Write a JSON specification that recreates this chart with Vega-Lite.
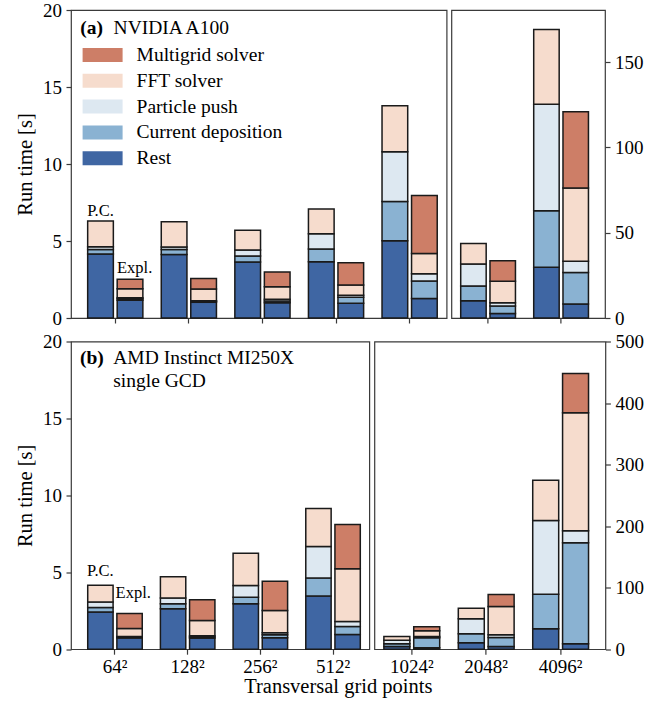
{
  "$schema": "https://vega.github.io/schema/vega-lite/v6.json",
  "padding": {"left": 14, "top": 0, "right": 5, "bottom": 0},
  "config": {
    "font": "Liberation Serif",
    "view": {"stroke": "#3a3a3a", "strokeWidth": 1.2},
    "axis": {"domain": false, "grid": false, "tickColor": "#3a3a3a", "tickSize": 5, "tickWidth": 1.2, "labelFont": "Liberation Serif", "labelFontSize": 19, "labelColor": "#000", "titleFont": "Liberation Serif", "titleFontSize": 20.5, "titleFontWeight": "normal", "titleColor": "#000", "labelPadding": 4.5},
    "legend": {"labelFont": "Liberation Serif"},
    "text": {"font": "Liberation Serif", "color": "#000"}
  },
  "datasets": {
    "a100": [
      {"grid": "64²", "method": "P.C.", "part": "Rest", "t": 4.16},
      {"grid": "64²", "method": "P.C.", "part": "Current deposition", "t": 0.29},
      {"grid": "64²", "method": "P.C.", "part": "Particle push", "t": 0.18},
      {"grid": "64²", "method": "P.C.", "part": "FFT solver", "t": 1.67},
      {"grid": "64²", "method": "Expl.", "part": "Rest", "t": 1.15},
      {"grid": "64²", "method": "Expl.", "part": "Current deposition", "t": 0.1},
      {"grid": "64²", "method": "Expl.", "part": "Particle push", "t": 0.07},
      {"grid": "64²", "method": "Expl.", "part": "FFT solver", "t": 0.58},
      {"grid": "64²", "method": "Expl.", "part": "Multigrid solver", "t": 0.62},
      {"grid": "128²", "method": "P.C.", "part": "Rest", "t": 4.12},
      {"grid": "128²", "method": "P.C.", "part": "Current deposition", "t": 0.32},
      {"grid": "128²", "method": "P.C.", "part": "Particle push", "t": 0.17},
      {"grid": "128²", "method": "P.C.", "part": "FFT solver", "t": 1.64},
      {"grid": "128²", "method": "Expl.", "part": "Rest", "t": 1.02},
      {"grid": "128²", "method": "Expl.", "part": "Current deposition", "t": 0.06},
      {"grid": "128²", "method": "Expl.", "part": "Particle push", "t": 0.04},
      {"grid": "128²", "method": "Expl.", "part": "FFT solver", "t": 0.76},
      {"grid": "128²", "method": "Expl.", "part": "Multigrid solver", "t": 0.69},
      {"grid": "256²", "method": "P.C.", "part": "Rest", "t": 3.64},
      {"grid": "256²", "method": "P.C.", "part": "Current deposition", "t": 0.39},
      {"grid": "256²", "method": "P.C.", "part": "Particle push", "t": 0.39},
      {"grid": "256²", "method": "P.C.", "part": "FFT solver", "t": 1.27},
      {"grid": "256²", "method": "Expl.", "part": "Rest", "t": 0.99},
      {"grid": "256²", "method": "Expl.", "part": "Current deposition", "t": 0.12},
      {"grid": "256²", "method": "Expl.", "part": "Particle push", "t": 0.1},
      {"grid": "256²", "method": "Expl.", "part": "FFT solver", "t": 0.82},
      {"grid": "256²", "method": "Expl.", "part": "Multigrid solver", "t": 0.96},
      {"grid": "512²", "method": "P.C.", "part": "Rest", "t": 3.66},
      {"grid": "512²", "method": "P.C.", "part": "Current deposition", "t": 0.82},
      {"grid": "512²", "method": "P.C.", "part": "Particle push", "t": 0.99},
      {"grid": "512²", "method": "P.C.", "part": "FFT solver", "t": 1.61},
      {"grid": "512²", "method": "Expl.", "part": "Rest", "t": 0.95},
      {"grid": "512²", "method": "Expl.", "part": "Current deposition", "t": 0.39},
      {"grid": "512²", "method": "Expl.", "part": "Particle push", "t": 0.13},
      {"grid": "512²", "method": "Expl.", "part": "FFT solver", "t": 0.67},
      {"grid": "512²", "method": "Expl.", "part": "Multigrid solver", "t": 1.45},
      {"grid": "1024²", "method": "P.C.", "part": "Rest", "t": 5.02},
      {"grid": "1024²", "method": "P.C.", "part": "Current deposition", "t": 2.55},
      {"grid": "1024²", "method": "P.C.", "part": "Particle push", "t": 3.23},
      {"grid": "1024²", "method": "P.C.", "part": "FFT solver", "t": 2.99},
      {"grid": "1024²", "method": "Expl.", "part": "Rest", "t": 1.27},
      {"grid": "1024²", "method": "Expl.", "part": "Current deposition", "t": 1.13},
      {"grid": "1024²", "method": "Expl.", "part": "Particle push", "t": 0.48},
      {"grid": "1024²", "method": "Expl.", "part": "FFT solver", "t": 1.31},
      {"grid": "1024²", "method": "Expl.", "part": "Multigrid solver", "t": 3.77},
      {"grid": "2048²", "method": "P.C.", "part": "Rest", "t": 10.1},
      {"grid": "2048²", "method": "P.C.", "part": "Current deposition", "t": 8.7},
      {"grid": "2048²", "method": "P.C.", "part": "Particle push", "t": 12.9},
      {"grid": "2048²", "method": "P.C.", "part": "FFT solver", "t": 12.0},
      {"grid": "2048²", "method": "Expl.", "part": "Rest", "t": 2.7},
      {"grid": "2048²", "method": "Expl.", "part": "Current deposition", "t": 4.3},
      {"grid": "2048²", "method": "Expl.", "part": "Particle push", "t": 2.0},
      {"grid": "2048²", "method": "Expl.", "part": "FFT solver", "t": 12.5},
      {"grid": "2048²", "method": "Expl.", "part": "Multigrid solver", "t": 12.1},
      {"grid": "4096²", "method": "P.C.", "part": "Rest", "t": 29.7},
      {"grid": "4096²", "method": "P.C.", "part": "Current deposition", "t": 33.2},
      {"grid": "4096²", "method": "P.C.", "part": "Particle push", "t": 62.3},
      {"grid": "4096²", "method": "P.C.", "part": "FFT solver", "t": 43.8},
      {"grid": "4096²", "method": "Expl.", "part": "Rest", "t": 8.2},
      {"grid": "4096²", "method": "Expl.", "part": "Current deposition", "t": 18.4},
      {"grid": "4096²", "method": "Expl.", "part": "Particle push", "t": 6.6},
      {"grid": "4096²", "method": "Expl.", "part": "FFT solver", "t": 43.0},
      {"grid": "4096²", "method": "Expl.", "part": "Multigrid solver", "t": 44.6}
    ],
    "mi250x": [
      {"grid": "64²", "method": "P.C.", "part": "Rest", "t": 2.42},
      {"grid": "64²", "method": "P.C.", "part": "Current deposition", "t": 0.29},
      {"grid": "64²", "method": "P.C.", "part": "Particle push", "t": 0.35},
      {"grid": "64²", "method": "P.C.", "part": "FFT solver", "t": 1.09},
      {"grid": "64²", "method": "Expl.", "part": "Rest", "t": 0.72},
      {"grid": "64²", "method": "Expl.", "part": "Current deposition", "t": 0.06},
      {"grid": "64²", "method": "Expl.", "part": "Particle push", "t": 0.05},
      {"grid": "64²", "method": "Expl.", "part": "FFT solver", "t": 0.52},
      {"grid": "64²", "method": "Expl.", "part": "Multigrid solver", "t": 0.97},
      {"grid": "128²", "method": "P.C.", "part": "Rest", "t": 2.63},
      {"grid": "128²", "method": "P.C.", "part": "Current deposition", "t": 0.32},
      {"grid": "128²", "method": "P.C.", "part": "Particle push", "t": 0.37},
      {"grid": "128²", "method": "P.C.", "part": "FFT solver", "t": 1.39},
      {"grid": "128²", "method": "Expl.", "part": "Rest", "t": 0.72},
      {"grid": "128²", "method": "Expl.", "part": "Current deposition", "t": 0.08},
      {"grid": "128²", "method": "Expl.", "part": "Particle push", "t": 0.07},
      {"grid": "128²", "method": "Expl.", "part": "FFT solver", "t": 1.0},
      {"grid": "128²", "method": "Expl.", "part": "Multigrid solver", "t": 1.34},
      {"grid": "256²", "method": "P.C.", "part": "Rest", "t": 2.95},
      {"grid": "256²", "method": "P.C.", "part": "Current deposition", "t": 0.43},
      {"grid": "256²", "method": "P.C.", "part": "Particle push", "t": 0.76},
      {"grid": "256²", "method": "P.C.", "part": "FFT solver", "t": 2.1},
      {"grid": "256²", "method": "Expl.", "part": "Rest", "t": 0.74},
      {"grid": "256²", "method": "Expl.", "part": "Current deposition", "t": 0.2},
      {"grid": "256²", "method": "Expl.", "part": "Particle push", "t": 0.13},
      {"grid": "256²", "method": "Expl.", "part": "FFT solver", "t": 1.45},
      {"grid": "256²", "method": "Expl.", "part": "Multigrid solver", "t": 1.9},
      {"grid": "512²", "method": "P.C.", "part": "Rest", "t": 3.45},
      {"grid": "512²", "method": "P.C.", "part": "Current deposition", "t": 1.17},
      {"grid": "512²", "method": "P.C.", "part": "Particle push", "t": 2.06},
      {"grid": "512²", "method": "P.C.", "part": "FFT solver", "t": 2.47},
      {"grid": "512²", "method": "Expl.", "part": "Rest", "t": 0.96},
      {"grid": "512²", "method": "Expl.", "part": "Current deposition", "t": 0.52},
      {"grid": "512²", "method": "Expl.", "part": "Particle push", "t": 0.32},
      {"grid": "512²", "method": "Expl.", "part": "FFT solver", "t": 3.43},
      {"grid": "512²", "method": "Expl.", "part": "Multigrid solver", "t": 2.88},
      {"grid": "1024²", "method": "P.C.", "part": "Rest", "t": 4.5},
      {"grid": "1024²", "method": "P.C.", "part": "Current deposition", "t": 4.4},
      {"grid": "1024²", "method": "P.C.", "part": "Particle push", "t": 5.8},
      {"grid": "1024²", "method": "P.C.", "part": "FFT solver", "t": 5.9},
      {"grid": "1024²", "method": "Expl.", "part": "Rest", "t": 2.5},
      {"grid": "1024²", "method": "Expl.", "part": "Current deposition", "t": 16.0},
      {"grid": "1024²", "method": "Expl.", "part": "Particle push", "t": 2.0},
      {"grid": "1024²", "method": "Expl.", "part": "FFT solver", "t": 9.5},
      {"grid": "1024²", "method": "Expl.", "part": "Multigrid solver", "t": 6.3},
      {"grid": "2048²", "method": "P.C.", "part": "Rest", "t": 10.4},
      {"grid": "2048²", "method": "P.C.", "part": "Current deposition", "t": 14.6},
      {"grid": "2048²", "method": "P.C.", "part": "Particle push", "t": 24.4},
      {"grid": "2048²", "method": "P.C.", "part": "FFT solver", "t": 17.2},
      {"grid": "2048²", "method": "Expl.", "part": "Rest", "t": 4.4},
      {"grid": "2048²", "method": "Expl.", "part": "Current deposition", "t": 14.6},
      {"grid": "2048²", "method": "Expl.", "part": "Particle push", "t": 4.4},
      {"grid": "2048²", "method": "Expl.", "part": "FFT solver", "t": 46.0},
      {"grid": "2048²", "method": "Expl.", "part": "Multigrid solver", "t": 19.5},
      {"grid": "4096²", "method": "P.C.", "part": "Rest", "t": 33.1},
      {"grid": "4096²", "method": "P.C.", "part": "Current deposition", "t": 56.3},
      {"grid": "4096²", "method": "P.C.", "part": "Particle push", "t": 119.7},
      {"grid": "4096²", "method": "P.C.", "part": "FFT solver", "t": 65.5},
      {"grid": "4096²", "method": "Expl.", "part": "Rest", "t": 8.7},
      {"grid": "4096²", "method": "Expl.", "part": "Current deposition", "t": 164.2},
      {"grid": "4096²", "method": "Expl.", "part": "Particle push", "t": 19.5},
      {"grid": "4096²", "method": "Expl.", "part": "FFT solver", "t": 191.7},
      {"grid": "4096²", "method": "Expl.", "part": "Multigrid solver", "t": 63.9}
    ]
  },
  "spacing": 2.5,
  "resolve": {"scale": {"x": "independent", "y": "independent", "xOffset": "independent"}, "legend": {"color": "independent"}},
  "vconcat": [
    {
      "spacing": 4.4,
      "bounds": "flush",
      "resolve": {"scale": {"x": "independent", "y": "independent", "xOffset": "independent"}, "legend": {"color": "independent"}},
      "hconcat": [
        {
          "width": 375.6,
          "height": 308,
          "layer": [
            {
              "data": {"name": "a100"},
              "transform": [
                {"filter": {"field": "grid", "oneOf": ["64²", "128²", "256²", "512²", "1024²"]}},
                {"calculate": "indexof(['Rest','Current deposition','Particle push','FFT solver','Multigrid solver'], datum.part)", "as": "ord"}
              ],
              "mark": {"type": "bar", "stroke": "#1a1a1a", "strokeWidth": 1.5},
              "encoding": {
                "x": {"field": "grid", "type": "nominal", "scale": {"domain": ["64²", "128²", "256²", "512²", "1024²"], "paddingInner": 0.25, "paddingOuter": 0.177, "align": 0.64}, "axis": {"labels": false, "title": null}},
                "xOffset": {"field": "method", "type": "nominal", "scale": {"domain": ["P.C.", "Expl."], "paddingInner": 0.13, "paddingOuter": 0}},
                "y": {"field": "t", "type": "quantitative", "stack": "zero", "scale": {"domain": [0, 20], "nice": false}, "axis": {"values": [0, 5, 10, 15, 20], "title": "Run time [s]", "titlePadding": 7}},
                "color": {"field": "part", "type": "nominal", "scale": {"domain": ["Multigrid solver", "FFT solver", "Particle push", "Current deposition", "Rest"], "range": ["#cd7e67", "#f6dccd", "#dde8f1", "#8ab2d2", "#3f66a3"]},
                  "legend": {"orient": "none", "legendX": 21.6, "legendY": 35, "title": null, "padding": 0, "symbolType": "M-2,-0.7H2V0.7H-2Z", "symbolSize": 400, "symbolStrokeWidth": 0, "symbolOpacity": 1, "labelFontSize": 19.5, "labelOffset": 24, "rowPadding": 5.8, "labelColor": "#000"}},
                "order": {"field": "ord", "type": "quantitative"}
              }
            },
            {
              "data": {"values": [{}]},
              "mark": {"type": "text", "fontSize": 16.5, "align": "center", "baseline": "alphabetic"},
              "encoding": {"x": {"datum": "64²"}, "xOffset": {"datum": "P.C."}, "y": {"datum": 6.64}, "text": {"value": "P.C."}}
            },
            {
              "data": {"values": [{}]},
              "mark": {"type": "text", "fontSize": 16.5, "align": "left", "baseline": "alphabetic", "dx": -13},
              "encoding": {"x": {"datum": "64²"}, "xOffset": {"datum": "Expl."}, "y": {"datum": 2.9}, "text": {"value": "Expl."}}
            },
            {
              "data": {"values": [{}]},
              "mark": {"type": "text", "fontSize": 19.5, "fontWeight": "bold", "align": "left", "baseline": "alphabetic", "dx": -35},
              "encoding": {"x": {"datum": "64²"}, "y": {"datum": 18.44}, "text": {"value": "(a)"}}
            },
            {
              "data": {"values": [{}]},
              "mark": {"type": "text", "fontSize": 19.5, "align": "left", "baseline": "alphabetic", "dx": -1.7},
              "encoding": {"x": {"datum": "64²"}, "y": {"datum": 18.44}, "text": {"value": "NVIDIA A100"}}
            }
          ]
        },
        {
          "width": 153.6,
          "height": 308,
          "data": {"name": "a100"},
          "transform": [
            {"filter": {"field": "grid", "oneOf": ["2048²", "4096²"]}},
            {"calculate": "indexof(['Rest','Current deposition','Particle push','FFT solver','Multigrid solver'], datum.part)", "as": "ord"}
          ],
          "mark": {"type": "bar", "stroke": "#1a1a1a", "strokeWidth": 1.5},
          "encoding": {
            "x": {"field": "grid", "type": "nominal", "scale": {"domain": ["2048²", "4096²"], "paddingInner": 0.25, "paddingOuter": 0.177, "align": 0.36}, "axis": {"labels": false, "title": null}},
            "xOffset": {"field": "method", "type": "nominal", "scale": {"domain": ["P.C.", "Expl."], "paddingInner": 0.13, "paddingOuter": 0}},
            "y": {"field": "t", "type": "quantitative", "stack": "zero", "scale": {"domain": [0, 180.5], "nice": false}, "axis": {"orient": "right", "values": [0, 50, 100, 150], "title": null}},
            "color": {"field": "part", "type": "nominal", "scale": {"domain": ["Multigrid solver", "FFT solver", "Particle push", "Current deposition", "Rest"], "range": ["#cd7e67", "#f6dccd", "#dde8f1", "#8ab2d2", "#3f66a3"]}, "legend": null},
            "order": {"field": "ord", "type": "quantitative"}
          }
        }
      ]
    },
    {
      "spacing": 4.4,
      "bounds": "flush",
      "resolve": {"scale": {"x": "independent", "y": "independent", "xOffset": "independent"}, "legend": {"color": "independent"}},
      "hconcat": [
        {
          "width": 298.3,
          "height": 307.7,
          "layer": [
            {
              "data": {"name": "mi250x"},
              "transform": [
                {"filter": {"field": "grid", "oneOf": ["64²", "128²", "256²", "512²"]}},
                {"calculate": "indexof(['Rest','Current deposition','Particle push','FFT solver','Multigrid solver'], datum.part)", "as": "ord"}
              ],
              "mark": {"type": "bar", "stroke": "#1a1a1a", "strokeWidth": 1.5},
              "encoding": {
                "x": {"field": "grid", "type": "nominal", "scale": {"domain": ["64²", "128²", "256²", "512²"], "paddingInner": 0.25, "paddingOuter": 0.177, "align": 0.65}, "axis": {"labelAngle": 0, "labelPadding": 3, "title": "Transversal grid points", "titleX": 266.8, "titleY": 43.5, "titleBaseline": "alphabetic"}},
                "xOffset": {"field": "method", "type": "nominal", "scale": {"domain": ["P.C.", "Expl."], "paddingInner": 0.13, "paddingOuter": 0}},
                "y": {"field": "t", "type": "quantitative", "stack": "zero", "scale": {"domain": [0, 20], "nice": false}, "axis": {"values": [0, 5, 10, 15, 20], "title": "Run time [s]", "titlePadding": 7}},
                "color": {"field": "part", "type": "nominal", "scale": {"domain": ["Multigrid solver", "FFT solver", "Particle push", "Current deposition", "Rest"], "range": ["#cd7e67", "#f6dccd", "#dde8f1", "#8ab2d2", "#3f66a3"]}, "legend": null},
                "order": {"field": "ord", "type": "quantitative"}
              }
            },
            {
              "data": {"values": [{}]},
              "mark": {"type": "text", "fontSize": 16.5, "align": "center", "baseline": "alphabetic"},
              "encoding": {"x": {"datum": "64²"}, "xOffset": {"datum": "P.C."}, "y": {"datum": 4.79}, "text": {"value": "P.C."}}
            },
            {
              "data": {"values": [{}]},
              "mark": {"type": "text", "fontSize": 16.5, "align": "left", "baseline": "alphabetic", "dx": -14},
              "encoding": {"x": {"datum": "64²"}, "xOffset": {"datum": "Expl."}, "y": {"datum": 3.34}, "text": {"value": "Expl."}}
            },
            {
              "data": {"values": [{}]},
              "mark": {"type": "text", "fontSize": 19.5, "fontWeight": "bold", "align": "left", "baseline": "alphabetic", "dx": -35},
              "encoding": {"x": {"datum": "64²"}, "y": {"datum": 18.56}, "text": {"value": "(b)"}}
            },
            {
              "data": {"values": [{}]},
              "mark": {"type": "text", "fontSize": 19.5, "align": "left", "baseline": "alphabetic", "dx": -1.7, "lineHeight": 23.4},
              "encoding": {"x": {"datum": "64²"}, "y": {"datum": 18.56}, "text": {"value": ["AMD Instinct MI250X", "single GCD"]}}
            }
          ]
        },
        {
          "width": 231,
          "height": 307.7,
          "data": {"name": "mi250x"},
          "transform": [
            {"filter": {"field": "grid", "oneOf": ["1024²", "2048²", "4096²"]}},
            {"calculate": "indexof(['Rest','Current deposition','Particle push','FFT solver','Multigrid solver'], datum.part)", "as": "ord"}
          ],
          "mark": {"type": "bar", "stroke": "#1a1a1a", "strokeWidth": 1.5},
          "encoding": {
            "x": {"field": "grid", "type": "nominal", "scale": {"domain": ["1024²", "2048²", "4096²"], "paddingInner": 0.25, "paddingOuter": 0.177, "align": 0.36}, "axis": {"labelAngle": 0, "labelPadding": 3, "title": null}},
            "xOffset": {"field": "method", "type": "nominal", "scale": {"domain": ["P.C.", "Expl."], "paddingInner": 0.13, "paddingOuter": 0}},
            "y": {"field": "t", "type": "quantitative", "stack": "zero", "scale": {"domain": [0, 500], "nice": false}, "axis": {"orient": "right", "values": [0, 100, 200, 300, 400, 500], "title": null}},
            "color": {"field": "part", "type": "nominal", "scale": {"domain": ["Multigrid solver", "FFT solver", "Particle push", "Current deposition", "Rest"], "range": ["#cd7e67", "#f6dccd", "#dde8f1", "#8ab2d2", "#3f66a3"]}, "legend": null},
            "order": {"field": "ord", "type": "quantitative"}
          }
        }
      ]
    }
  ]
}
